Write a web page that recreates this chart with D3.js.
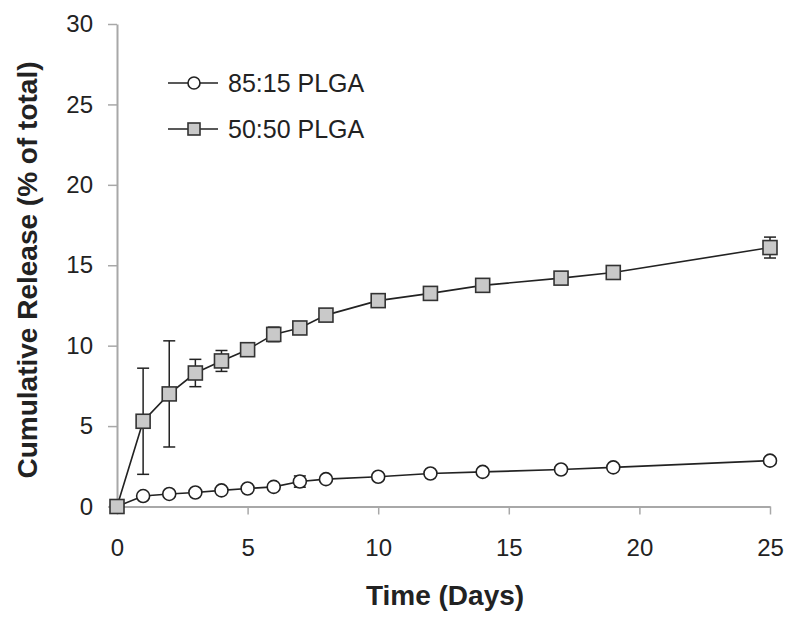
<!DOCTYPE html>
<html><head><meta charset="utf-8">
<script src="https://cdn.jsdelivr.net/npm/d3@7"></script>
<style>body{margin:0;background:#fff}svg{display:block}text{font-family:"Liberation Sans",Arial,sans-serif}</style>
</head><body>
<svg id="c" width="800" height="631"></svg>
<script>
const days = [0,1,2,3,4,5,6,7,8,10,12,14,17,19,25];
const plga5050 = [0,5.3,7.0,8.3,9.05,9.75,10.7,11.1,11.9,12.8,13.25,13.75,14.2,14.55,16.1];
const err5050 = [0.1,3.3,3.3,0.85,0.65,0.35,0.45,0.3,0.2,0.2,0.2,0.2,0.2,0.2,0.65];
const plga8515 = [0,0.65,0.78,0.87,1.0,1.12,1.22,1.55,1.7,1.85,2.05,2.15,2.3,2.43,2.85];
const err8515 = [0,0.1,0.1,0.05,0.05,0.05,0.1,0.35,0.1,0.1,0.1,0.1,0.1,0.1,0.2];
const seriesNames = ["85:15 PLGA","50:50 PLGA"];
const xTicks = [0,5,10,15,20,25];
const yTicks = [0,5,10,15,20,25,30];

const svg = d3.select("#c");
const x = d3.scaleLinear().domain([0,25]).range([117,770]);
const y = d3.scaleLinear().domain([0,30]).range([506.5,24]);
const axisCol = "#a8a8a8";

// axes
const xa = svg.append("g").attr("transform","translate(0,506.5)")
  .call(d3.axisBottom(x).tickValues(xTicks).tickSizeInner(8).tickSizeOuter(0).tickPadding(24));
const ya = svg.append("g").attr("transform","translate(117,0)")
  .call(d3.axisLeft(y).tickValues(yTicks).tickSizeInner(9).tickSizeOuter(0).tickPadding(15));
[xa,ya].forEach(a=>{
  a.select(".domain").attr("stroke",axisCol).attr("stroke-width",2);
  a.selectAll(".tick line").attr("stroke",axisCol).attr("stroke-width",1.5);
  a.selectAll(".tick text").attr("font-size",24).attr("fill","#222");
});

svg.append("text").attr("x",445).attr("y",605).attr("text-anchor","middle")
  .attr("font-size",28).attr("font-weight","bold").attr("fill","#222").text("Time (Days)");
svg.append("text").attr("transform","translate(37,270) rotate(-90)").attr("text-anchor","middle")
  .attr("font-size",28).attr("font-weight","bold").attr("fill","#222").text("Cumulative Release (% of total)");

const line = d3.line().x(d=>x(d[0])).y(d=>y(d[1]));
const d50 = days.map((d,i)=>[d,plga5050[i],err5050[i]]);
const d85 = days.map((d,i)=>[d,plga8515[i],err8515[i]]);

function errBars(data){
  const g = svg.append("g").attr("stroke","#222").attr("stroke-width",1.5);
  data.filter(d=>d[2]>0).forEach(d=>{
    const cx = x(d[0]);
    g.append("line").attr("x1",cx).attr("x2",cx).attr("y1",y(d[1]-d[2])).attr("y2",y(d[1]+d[2]));
    g.append("line").attr("x1",cx-6).attr("x2",cx+6).attr("y1",y(d[1]-d[2])).attr("y2",y(d[1]-d[2]));
    g.append("line").attr("x1",cx-6).attr("x2",cx+6).attr("y1",y(d[1]+d[2])).attr("y2",y(d[1]+d[2]));
  });
}
errBars(d50); errBars(d85);

svg.append("path").datum(d85).attr("d",line).attr("fill","none").attr("stroke","#222").attr("stroke-width",1.6);
svg.append("path").datum(d50).attr("d",line).attr("fill","none").attr("stroke","#222").attr("stroke-width",1.6);

svg.append("g").selectAll("circle").data(d85).join("circle")
  .attr("cx",d=>x(d[0])).attr("cy",d=>y(d[1])).attr("r",6.5)
  .attr("fill","#fff").attr("stroke","#222").attr("stroke-width",1.6);
svg.append("g").selectAll("rect").data(d50).join("rect")
  .attr("x",d=>x(d[0])-7).attr("y",d=>y(d[1])-7).attr("width",14).attr("height",14)
  .attr("fill","#c9c9c9").attr("stroke","#333").attr("stroke-width",1.6);

// legend
const lg = svg.append("g");
[[83,"c"],[129,"s"]].forEach((r,i)=>{
  lg.append("line").attr("x1",168).attr("x2",218).attr("y1",r[0]).attr("y2",r[0]).attr("stroke","#222").attr("stroke-width",1.6);
  if(r[1]==="c") lg.append("circle").attr("cx",194).attr("cy",r[0]).attr("r",6).attr("fill","#fff").attr("stroke","#222").attr("stroke-width",1.6);
  else lg.append("rect").attr("x",188).attr("y",r[0]-6).attr("width",12).attr("height",12).attr("fill","#c9c9c9").attr("stroke","#333").attr("stroke-width",1.6);
  lg.append("text").attr("x",228).attr("y",r[0]+9).attr("font-size",25).attr("fill","#222").text(seriesNames[i]);
});
</script>
</body></html>
